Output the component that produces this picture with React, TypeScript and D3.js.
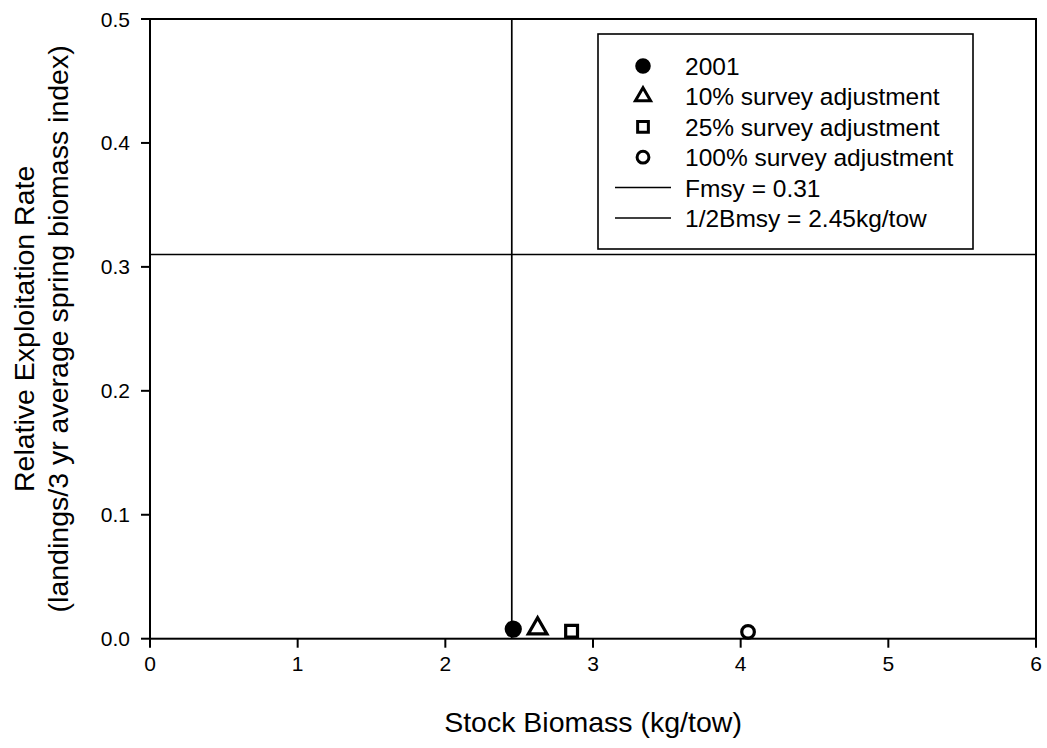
import React from "react";
import * as d3 from "d3";

const xTicks = [0, 1, 2, 3, 4, 5, 6];
const yTicks = [0, 0.1, 0.2, 0.3, 0.4, 0.5];
const yTickLabels = ["0.0", "0.1", "0.2", "0.3", "0.4", "0.5"];

const seriesNames = ["2001", "10% survey adjustment", "25% survey adjustment", "100% survey adjustment"];
const seriesX = [2.46, 2.625, 2.855, 4.05];
const seriesY = [0.0078, 0.0082, 0.006, 0.0055];

const fmsy = 0.31;
const halfBmsy = 2.45;
const lineLabels = ["Fmsy = 0.31", "1/2Bmsy = 2.45kg/tow"];

const FONT = "'Liberation Sans', Arial, sans-serif";

export default function App() {
  const left = 150, right = 1036, top = 19, bottom = 638.7;
  const x = d3.scaleLinear().domain([0, 6]).range([left, right]);
  const y = d3.scaleLinear().domain([0, 0.5]).range([bottom, top]);

  const plotSym = [
    { type: d3.symbolCircle, size: 235, fill: "#000", sw: 0 },
    { type: d3.symbolTriangle, size: 150, fill: "none", sw: 3.2 },
    { type: d3.symbolSquare, size: 140, fill: "none", sw: 3.2 },
    { type: d3.symbolCircle, size: 125, fill: "none", sw: 3.2 },
  ];
  const legSym = [
    { type: d3.symbolCircle, size: 190, fill: "#000", sw: 0 },
    { type: d3.symbolTriangle, size: 100, fill: "none", sw: 3 },
    { type: d3.symbolSquare, size: 115, fill: "none", sw: 3 },
    { type: d3.symbolCircle, size: 110, fill: "none", sw: 3 },
  ];

  const legX = 598, legY = 34, legW = 375, legH = 215;
  const rowY0 = 66, rowStep = 30.4;

  return (
    <svg width={1047} height={748} style={{ position: "absolute", left: 0, top: 0, background: "#fff" }} fontFamily={FONT}>
      <rect x={0} y={0} width={1047} height={748} fill="#fff" />
      {/* reference lines */}
      <line x1={x(0)} x2={x(6)} y1={y(fmsy)} y2={y(fmsy)} stroke="#000" strokeWidth={1.7} />
      <line x1={x(halfBmsy)} x2={x(halfBmsy)} y1={y(0)} y2={y(0.5)} stroke="#000" strokeWidth={1.7} />
      {/* frame */}
      <rect x={left} y={top} width={right - left} height={bottom - top} fill="none" stroke="#000" strokeWidth={2} />
      {/* x ticks */}
      {xTicks.map((t) => (
        <g key={"x" + t}>
          <line x1={x(t)} x2={x(t)} y1={bottom} y2={bottom + 9} stroke="#000" strokeWidth={2} />
          <text x={x(t)} y={671} textAnchor="middle" fontSize={21}>{t}</text>
        </g>
      ))}
      {/* y ticks */}
      {yTicks.map((t, i) => (
        <g key={"y" + t}>
          <line x1={left - 9} x2={left} y1={y(t)} y2={y(t)} stroke="#000" strokeWidth={2} />
          <text x={130} y={y(t) + 7.5} textAnchor="end" fontSize={21}>{yTickLabels[i]}</text>
        </g>
      ))}
      {/* axis titles */}
      <text x={(left + right) / 2} y={732} textAnchor="middle" fontSize={28.5}>Stock Biomass (kg/tow)</text>
      <g transform={`translate(34,${(top + bottom) / 2}) rotate(-90)`}>
        <text x={0} y={0} textAnchor="middle" fontSize={28.5}>Relative Exploitation Rate</text>
        <text x={0} y={34} textAnchor="middle" fontSize={28.5}>(landings/3 yr average spring biomass index)</text>
      </g>
      {/* points */}
      {seriesX.map((v, i) => (
        <path
          key={"p" + i}
          d={d3.symbol().type(plotSym[i].type).size(plotSym[i].size)() || ""}
          transform={`translate(${x(v)},${y(seriesY[i])})`}
          fill={plotSym[i].fill}
          stroke="#000"
          strokeWidth={plotSym[i].sw}
        />
      ))}
      {/* legend */}
      <rect x={legX} y={legY} width={legW} height={legH} fill="#fff" stroke="#000" strokeWidth={1.6} />
      {seriesNames.map((n, i) => (
        <g key={"l" + i}>
          <path
            d={d3.symbol().type(legSym[i].type).size(legSym[i].size)() || ""}
            transform={`translate(643,${rowY0 + i * rowStep})`}
            fill={legSym[i].fill}
            stroke="#000"
            strokeWidth={legSym[i].sw}
          />
          <text x={685} y={rowY0 + i * rowStep + 9} fontSize={24.5}>{n}</text>
        </g>
      ))}
      {lineLabels.map((n, i) => {
        const yy = rowY0 + (i + 4) * rowStep;
        return (
          <g key={"ll" + i}>
            <line x1={615} x2={671} y1={yy} y2={yy} stroke="#000" strokeWidth={1.5} />
            <text x={685} y={yy + 9} fontSize={24.5}>{n}</text>
          </g>
        );
      })}
    </svg>
  );
}
